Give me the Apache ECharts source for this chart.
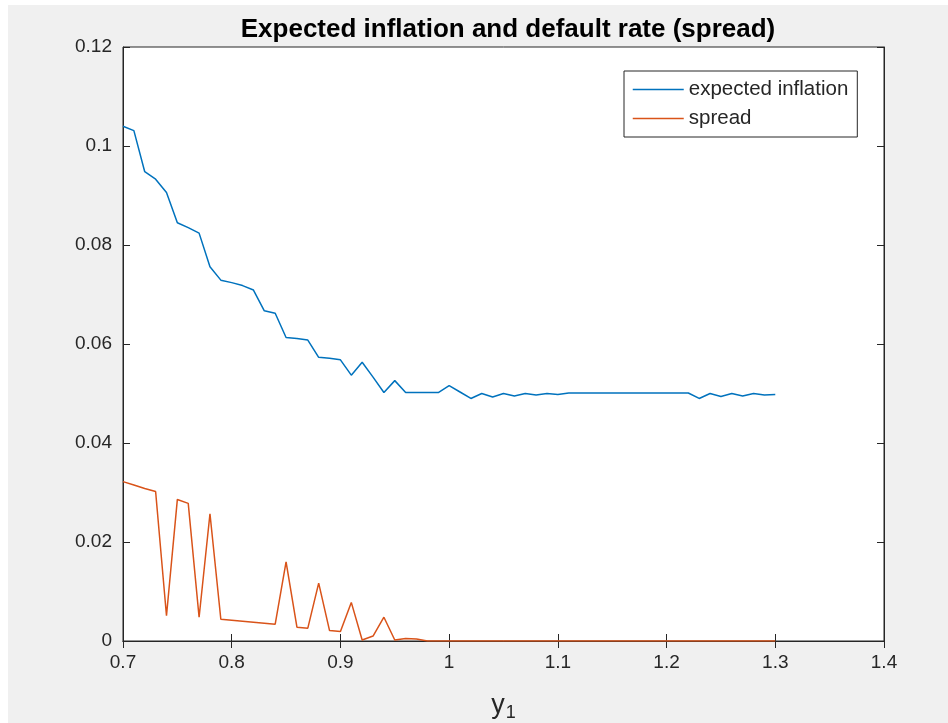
<!DOCTYPE html>
<html>
<head>
<meta charset="utf-8">
<script src="https://cdn.jsdelivr.net/npm/echarts@6/dist/echarts.min.js"></script>
<style>html,body{margin:0;padding:0;background:#f0f0f0;}#c{width:948px;height:723px;}</style>
</head>
<body>
<div id="c"></div>
<script>
var xValues = [0.70,0.71,0.72,0.73,0.74,0.75,0.76,0.77,0.78,0.79,
  0.80,0.81,0.82,0.83,0.84,0.85,0.86,0.87,0.88,0.89,
  0.90,0.91,0.92,0.93,0.94,0.95,0.96,0.97,0.98,0.99,
  1.00,1.01,1.02,1.03,1.04,1.05,1.06,1.07,1.08,1.09,
  1.10,1.11,1.12,1.13,1.14,1.15,1.16,1.17,1.18,1.19,
  1.20,1.21,1.22,1.23,1.24,1.25,1.26,1.27,1.28,1.29,1.30];
var expectedInflation = [0.1040,0.1031,0.0948,0.0933,0.0906,0.0845,0.0835,0.0824,0.0756,0.0729,
  0.0724,0.0718,0.0709,0.0667,0.0662,0.0613,0.0611,0.0608,0.0573,0.0571,
  0.0568,0.0537,0.0563,0.0533,0.0502,0.0526,0.0502,0.0502,0.0502,0.0502,
  0.0516,0.0503,0.0490,0.0500,0.0493,0.0500,0.0495,0.0500,0.0497,0.0500,
  0.0498,0.0501,0.0501,0.0501,0.0501,0.0501,0.0501,0.0501,0.0501,0.0501,
  0.0501,0.0501,0.0501,0.0490,0.0500,0.0494,0.0500,0.0495,0.0500,0.0497,0.0498];
var spread = [0.0322,0.0315,0.0308,0.0302,0.0051,0.0286,0.0278,0.0048,0.0257,0.0044,
  0.0042,0.0040,0.0038,0.0036,0.0034,0.0160,0.0028,0.0026,0.0117,0.0021,
  0.0019,0.0078,0.0002,0.0010,0.0048,0.0002,0.0005,0.0004,0.0000,0.0000,
  0,0,0,0,0,0,0,0,0,0,
  0,0,0,0,0,0,0,0,0,0,
  0,0,0,0,0,0,0,0,0,0,0];
var seriesNames = ['expected inflation', 'spread'];

function pairs(ys){ return xValues.map(function(x,i){ return [x, ys[i]]; }); }

var chart = echarts.init(document.getElementById('c'));
var axisColor = '#262626';
var font = 'Liberation Sans, Arial, sans-serif';
chart.setOption({
  backgroundColor: '#f0f0f0',
  animation: false,
  graphic: [
    {type:'rect', shape:{x:0,y:0,width:948,height:5}, style:{fill:'#ffffff'}, silent:true},
    {type:'rect', shape:{x:0,y:0,width:8,height:723}, style:{fill:'#ffffff'}, silent:true}
  ],
  title: {
    text: 'Expected inflation and default rate (spread)',
    left: 503, top: 12, textAlign: 'center',
    textStyle: {fontFamily: font, fontSize: 26, fontWeight: 'bold', color: '#000'}
  },
  legend: {
    data: seriesNames,
    orient: 'vertical',
    left: 624, top: 71,
    padding: [8, 9, 8, 8],
    itemWidth: 51, itemHeight: 14, itemGap: 8,
    backgroundColor: '#ffffff',
    borderColor: axisColor, borderWidth: 1,
    itemStyle: {opacity: 0},
    lineStyle: {width: 1.5},
    textStyle: {fontFamily: font, fontSize: 20.5, color: axisColor}
  },
  grid: {left: 123, right: 64, top: 47, bottom: 82, outerBoundsMode: 'none', containLabel: false, show: true, backgroundColor: '#ffffff', borderColor: axisColor, borderWidth: 1},
  xAxis: [{
    type: 'value', min: 0.7, max: 1.4, interval: 0.1,
    name: 'y{sub|1}', nameLocation: 'middle', nameGap: 49,
    nameTextStyle: {fontFamily: font, fontSize: 27, color: axisColor, rich: {sub: {fontSize: 18, verticalAlign: 'bottom', padding:[14,0,0,1], fontFamily: font, color: axisColor}}},
    axisLine: {show: true, lineStyle: {color: axisColor}},
    axisTick: {show: true, inside: true, length: 7, lineStyle: {color: axisColor}},
    axisLabel: {fontFamily: font, fontSize: 19, color: axisColor, margin: 12},
    splitLine: {show: false}
  }, {
    type: 'value', min: 0.7, max: 1.4, interval: 0.1, position: 'top',
    axisLine: {show: true, lineStyle: {color: axisColor}},
    axisTick: {show: true, inside: true, length: 7, lineStyle: {color: axisColor}},
    axisLabel: {show: false}, splitLine: {show: false}
  }],
  yAxis: [{
    type: 'value', min: 0, max: 0.12, interval: 0.02,
    axisLine: {show: true, lineStyle: {color: axisColor}},
    axisTick: {show: true, inside: true, length: 7, lineStyle: {color: axisColor}},
    axisLabel: {fontFamily: font, fontSize: 19, color: axisColor, margin: 11},
    splitLine: {show: false}
  }, {
    type: 'value', min: 0, max: 0.12, interval: 0.02, position: 'right',
    axisLine: {show: true, lineStyle: {color: axisColor}},
    axisTick: {show: true, inside: true, length: 7, lineStyle: {color: axisColor}},
    axisLabel: {show: false}, splitLine: {show: false}
  }],
  series: [{
    name: seriesNames[0], type: 'line', symbol: 'none', data: pairs(expectedInflation),
    lineStyle: {color: '#0072BD', width: 1.5}, itemStyle: {color: '#0072BD'}, z: 5
  }, {
    name: seriesNames[1], type: 'line', symbol: 'none', data: pairs(spread),
    lineStyle: {color: '#D95319', width: 1.5}, itemStyle: {color: '#D95319'}, z: 6
  }]
});
</script>
</body>
</html>
